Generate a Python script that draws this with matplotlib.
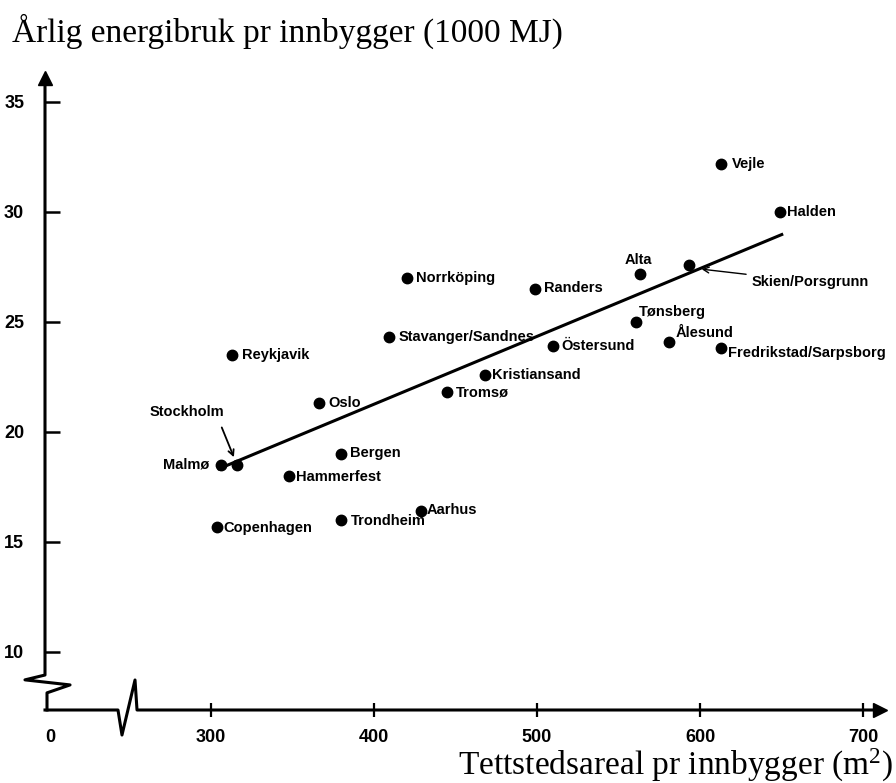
import numpy as np
import matplotlib
matplotlib.use('Agg')
import matplotlib.pyplot as plt
from matplotlib import font_manager
from matplotlib.transforms import blended_transform_factory

# Data
cities = ['Vejle', 'Halden', 'Alta', 'Skien/Porsgrunn', 'Norrköping', 'Randers',
          'Tønsberg', 'Ålesund', 'Fredrikstad/Sarpsborg', 'Stavanger/Sandnes',
          'Östersund', 'Kristiansand', 'Tromsø', 'Reykjavik', 'Oslo', 'Stockholm',
          'Malmø', 'Bergen', 'Hammerfest', 'Aarhus', 'Trondheim', 'Copenhagen']
area = [613, 649, 563, 593, 420, 499,
        561, 581, 613, 409,
        510, 468, 445, 313, 366, 316,
        306, 380, 348, 429, 380, 304]
energy = [32.2, 30.0, 27.2, 27.6, 27.0, 26.5,
          25.0, 24.1, 23.8, 24.3,
          23.9, 22.6, 21.8, 23.5, 21.3, 18.5,
          18.5, 19.0, 18.0, 16.4, 16.0, 15.7]

# trend line end points
fit_x = [304, 651]
fit_y = [18.3, 29.0]

x_ticks = [0, 300, 400, 500, 600, 700]
y_ticks = [10, 15, 20, 25, 30, 35]

# label offsets in points (dx, dy, ha)
label_pos = {
    'Vejle': (8, 0, 'left'), 'Halden': (5, 0, 'left'), 'Alta': (-1, 10, 'center'),
    'Norrköping': (7, 0, 'left'), 'Randers': (6, 1, 'left'),
    'Tønsberg': (2, 7, 'left'), 'Ålesund': (5, 6, 'left'),
    'Fredrikstad/Sarpsborg': (5, -3, 'left'), 'Stavanger/Sandnes': (7, 0, 'left'),
    'Östersund': (6, 0, 'left'), 'Kristiansand': (5, 0, 'left'),
    'Tromsø': (6, 0, 'left'), 'Reykjavik': (7, 0, 'left'), 'Oslo': (7, 0, 'left'),
    'Malmø': (-8, 0, 'right'), 'Bergen': (6, 1, 'left'),
    'Hammerfest': (5, -1, 'left'), 'Aarhus': (4, 1, 'left'),
    'Trondheim': (7, -1, 'left'), 'Copenhagen': (4, -1, 'left'),
}

names = {f.name for f in font_manager.fontManager.ttflist}
if 'Liberation Sans Narrow' in names:
    lab_font = 'Liberation Sans Narrow'
    lab_size = 12
else:
    lab_font = 'Liberation Sans'
    lab_size = 10.5
serif = 'Liberation Serif'

# broken x axis: 0..300 squeezed
k = 0.329


def fwd(x):
    x = np.asarray(x, dtype=float)
    return np.where(x >= 300, x, 300 - (300 - x) * k)


def inv(t):
    t = np.asarray(t, dtype=float)
    return np.where(t >= 300, t, 300 - (300 - t) / k)


fig = plt.figure(figsize=(8.96, 7.83), dpi=100)
ax = fig.add_axes([45 / 896, 73 / 783, 835 / 896, 632 / 783])
ax.set_xscale('function', functions=(fwd, inv))
ax.set_xlim(inv(198.2), 710.4)
ax.set_ylim(7.36, 36.09)

for s in ax.spines.values():
    s.set_visible(False)

lw = 2.2
# x axis with break
ax.plot([0, 0.0874, 0.0922, 0.1078, 0.1102, 1.0], [0, 0, -0.0396, 0.0475, 0, 0],
        color='black', lw=lw, transform=ax.transAxes, clip_on=False)
ax.plot(1.0, 0, marker='>', color='black', markersize=10, transform=ax.transAxes, clip_on=False)
# y axis with break
tr = blended_transform_factory(ax.transAxes, ax.transData)
ax.plot([0, 0, -0.024, 0.030, 0.0024, 0.0024], [36.09, 8.95, 8.73, 8.5, 8.14, 7.36],
        color='black', lw=lw, transform=tr, clip_on=False)
ax.plot(0, 1.0, marker='^', color='black', markersize=10, transform=ax.transAxes, clip_on=False)

ax.set_xticks(x_ticks)
ax.set_xticklabels([str(v) for v in x_ticks])
ax.set_yticks(y_ticks)
ax.set_yticklabels([str(v) for v in y_ticks])
ax.tick_params(axis='x', direction='inout', length=10, width=1.6, pad=9)
ax.tick_params(axis='y', direction='in', length=11, width=1.8, pad=15)
ax.xaxis.get_major_ticks()[0].tick1line.set_visible(False)
for lab in ax.get_xticklabels() + ax.get_yticklabels():
    lab.set_fontfamily(lab_font)
    lab.set_fontweight('bold')
    lab.set_fontsize(13)

# trend line and points
ax.plot(fit_x, fit_y, color='black', lw=2.2, solid_capstyle='butt')
ax.plot(area, energy, 'o', color='black', markersize=7.5)

for c, x, y in zip(cities, area, energy):
    if c in label_pos:
        dx, dy, ha = label_pos[c]
        ax.annotate(c, (x, y), xytext=(dx, dy), textcoords='offset points',
                    ha=ha, va='center', fontsize=lab_size, fontweight='bold',
                    family=lab_font)

# labels with leader arrows
i = cities.index('Stockholm')
ax.annotate('Stockholm', (area[i], energy[i]), xytext=(-36, 38), textcoords='offset points',
            ha='center', va='center', fontsize=lab_size, fontweight='bold', family=lab_font)
ax.annotate('', xy=(area[i], energy[i]), xytext=(-11, 27), textcoords='offset points',
            arrowprops=dict(arrowstyle='->', color='black', lw=1.3, shrinkA=0, shrinkB=6))

i = cities.index('Skien/Porsgrunn')
ax.annotate('Skien/Porsgrunn', (area[i] + 8, energy[i] - 0.2), xytext=(36, -9),
            textcoords='offset points', ha='left', va='center', fontsize=lab_size,
            fontweight='bold', family=lab_font,
            arrowprops=dict(arrowstyle='->', color='black', lw=1.0, shrinkA=2, shrinkB=0))

fig.text(12 / 896, 1 - 42 / 783, 'Årlig energibruk pr innbygger (1000 MJ)',
         family=serif, fontsize=24, ha='left', va='baseline')
fig.text(893 / 896, 1 - 775 / 783, r'Tettstedsareal pr innbygger (m$\mathregular{^2}$)',
         family=serif, fontsize=24, ha='right', va='baseline')

fig.savefig('out.png', dpi=100)
